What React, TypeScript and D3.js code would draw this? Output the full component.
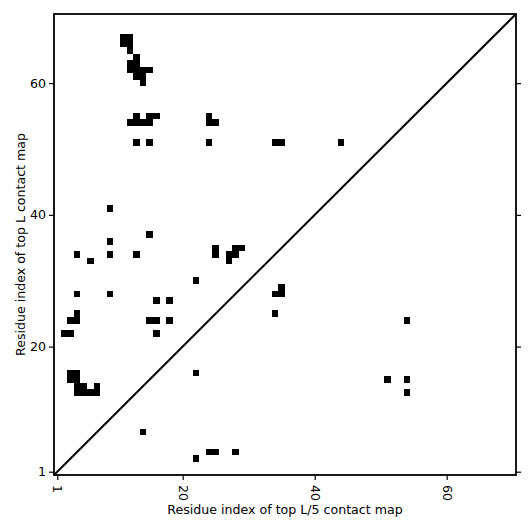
import { useEffect, useRef } from 'react';
import * as d3 from 'd3';

// residue count and tick labels
const residueCount = 70;
const tickValues = [1, 20, 40, 60];

// contacts as [x residue, y residue]
const upperContacts: [number, number][] = [
  [11, 67], [12, 67], [11, 66], [12, 66], [12, 65], [13, 64],
  [12, 63], [13, 63], [12, 62], [13, 62], [14, 62], [15, 62],
  [13, 61], [14, 61], [14, 60],
  [13, 55], [15, 55], [16, 55], [12, 54], [13, 54], [14, 54], [15, 54],
  [13, 51], [15, 51],
  [24, 55], [24, 54], [25, 54], [24, 51], [34, 51], [35, 51], [44, 51],
  [9, 41], [15, 37], [9, 36], [4, 34], [9, 34], [13, 34], [6, 33],
  [4, 28], [9, 28], [16, 27], [18, 27], [4, 25], [3, 24], [4, 24],
  [15, 24], [16, 24], [18, 24], [2, 22], [3, 22], [16, 22],
  [3, 16], [4, 16], [3, 15], [4, 15], [4, 14], [5, 14], [7, 14],
  [4, 13], [5, 13], [6, 13], [7, 13],
  [25, 35], [25, 34], [28, 35], [29, 35], [27, 34], [28, 34], [27, 33],
  [22, 30],
];

const lowerContacts: [number, number][] = [
  [14, 7], [22, 16], [24, 4], [25, 4], [28, 4], [22, 3],
  [34, 25], [34, 28], [35, 28], [35, 29], [54, 24],
  [51, 15], [54, 15], [54, 13],
];

const xLabel = 'Residue index of top L/5 contact map';
const yLabel = 'Residue index of top L contact map';

export default function App() {
  const ref = useRef<SVGSVGElement>(null);

  useEffect(() => {
    const svg = d3.select(ref.current);
    svg.selectAll('*').remove();

    const left = 54, right = 516, top = 14, bottom = 475;
    const font = 'DejaVu Sans, sans-serif';
    const fontSize = '12.6px';

    const x = d3.scaleLinear().domain([0.5, residueCount + 0.5]).range([left, right]);
    const y = d3.scaleLinear().domain([0.5, residueCount + 0.5]).range([bottom, top]);

    const allContacts = [...upperContacts, ...lowerContacts];

    // contact cells (crisp so neighbours join without seams)
    svg
      .append('g')
      .attr('shape-rendering', 'crispEdges')
      .selectAll('rect')
      .data(allContacts)
      .enter()
      .append('rect')
      .attr('x', (d) => x(d[0] - 0.5))
      .attr('y', (d) => y(d[1] + 0.5))
      .attr('width', x(1.5) - x(0.5))
      .attr('height', y(0.5) - y(1.5))
      .attr('fill', '#000');

    // diagonal
    svg
      .append('line')
      .attr('x1', x(0.5))
      .attr('y1', y(0.5))
      .attr('x2', x(residueCount + 0.5))
      .attr('y2', y(residueCount + 0.5))
      .attr('stroke', '#000')
      .attr('stroke-width', 2);

    // axes
    const styleAxis = (g: any) => {
      g.select('.domain').remove();
      g.selectAll('line').attr('stroke', '#000').attr('stroke-width', 1.2);
      g.selectAll('text').attr('fill', '#000').style('font-family', font).style('font-size', fontSize);
    };

    svg
      .append('g')
      .attr('transform', `translate(${left},0)`)
      .call(d3.axisLeft(y).tickValues(tickValues).tickSize(5).tickPadding(3))
      .call(styleAxis);

    svg
      .append('g')
      .attr('transform', `translate(${right},0)`)
      .call(d3.axisRight(y).tickValues(tickValues).tickSize(5).tickFormat(() => ''))
      .call(styleAxis);

    const xAxis = svg
      .append('g')
      .attr('transform', `translate(0,${bottom})`)
      .call(d3.axisBottom(x).tickValues(tickValues).tickSize(5))
      .call(styleAxis);

    xAxis
      .selectAll('text')
      .attr('transform', 'rotate(90)')
      .attr('x', 10)
      .attr('y', 0)
      .attr('dy', '0.35em')
      .attr('text-anchor', 'start');

    // frame
    svg
      .append('rect')
      .attr('x', left)
      .attr('y', top)
      .attr('width', right - left)
      .attr('height', bottom - top)
      .attr('fill', 'none')
      .attr('stroke', '#000')
      .attr('stroke-width', 1.8);

    // axis titles
    svg
      .append('text')
      .attr('x', (left + right) / 2)
      .attr('y', 514)
      .attr('text-anchor', 'middle')
      .style('font-family', font)
      .style('font-size', fontSize)
      .text(xLabel);

    svg
      .append('text')
      .attr('transform', `translate(25,${(top + bottom) / 2}) rotate(-90)`)
      .attr('text-anchor', 'middle')
      .style('font-family', font)
      .style('font-size', fontSize)
      .text(yLabel);
  }, []);

  return (
    <svg
      ref={ref}
      width={531}
      height={531}
      style={{ position: 'absolute', left: 0, top: 0, background: '#fff' }}
    ></svg>
  );
}
